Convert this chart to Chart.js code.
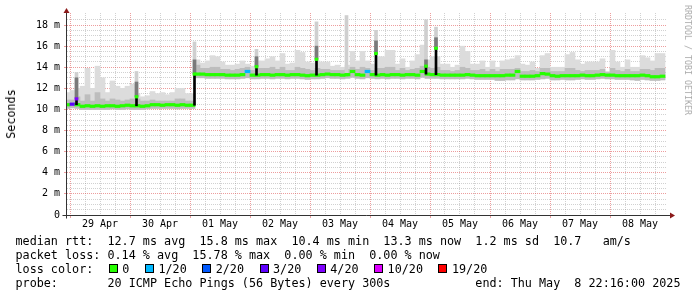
<!DOCTYPE html>
<html>
<head>
<meta charset="utf-8">
<title>SmokePing median rtt</title>
<script src="https://cdn.jsdelivr.net/npm/chart.js@4.4.1/dist/chart.umd.min.js"></script>
<style>
    body { margin: 0; background: #fff; }
    #wrap { position: relative; width: 697px; height: 297px; overflow: hidden; background: #fff; }
    #chart { position: absolute; left: 0; top: 0; }
    .mono { position: absolute; font-family: 'DejaVu Sans Mono', monospace; color: #000; white-space: nowrap; }
    #ytitle { left: 11px; top: 114px; font-size: 11.76px; transform: translate(-50%, -50%) rotate(-90deg); }
    #mark { left: 688px; top: 60px; font-size: 8.3px; color: #aaa; transform: translate(-50%, -50%) rotate(90deg); }
    #legend { left: 15.5px; top: 234px; font-size: 11.76px; line-height: 14px; }
    #legend div { height: 14px; white-space: pre; }
    .box { display: inline-block; width: 7px; height: 7px; border: 1px solid #000; margin-left: 15.5px; margin-right: 4.5px; }
</style>
</head>
<body>
<div id="wrap">
    <canvas id="chart" width="697" height="297"></canvas>
    <div id="ytitle" class="mono">Seconds</div>
    <div id="mark" class="mono">RRDTOOL / TOBI OETIKER</div>
    <div id="legend" class="mono">
        <div>median rtt:  12.7 ms avg  15.8 ms max  10.4 ms min  13.3 ms now  1.2 ms sd  10.7   am/s</div>
        <div>packet loss: 0.14 % avg  15.78 % max  0.00 % min  0.00 % now</div>
        <div id="lossLine">loss color:</div>
        <div>probe:       20 ICMP Echo Pings (56 Bytes) every 300s            end: Thu May  8 22:16:00 2025</div>
    </div>
</div>
<script>
// Time axis: hours since 29 Apr 00:00, window ends 08 May 22:16
const dayLabels = ['29 Apr', '30 Apr', '01 May', '02 May', '03 May', '04 May', '05 May', '06 May', '07 May', '08 May'];
const yTickLabels = ['0', '2 m', '4 m', '6 m', '8 m', '10 m', '12 m', '14 m', '16 m', '18 m'];

// Loss colours (SmokePing defaults)
const lossSteps = [0, 1, 2, 3, 4, 10, 19];
const lossLabels = ['0', '1/20', '2/20', '3/20', '4/20', '10/20', '19/20'];
const lossColors = ['#26ff00', '#00b8ff', '#0059ff', '#5e00ff', '#7e00ff', '#dd00ff', '#ff0000'];

// 2-hour buckets, first bucket centred on -1h (28 Apr 23:00)
const bucketStartHour = -1;
const bucketStepHours = 2;

// median rtt per bucket (ms)
const medianRtt = [
    10.45, 10.5, 10.45, 10.3, 10.35, 10.3, 10.35, 10.3, 10.35, 10.35,
    10.3, 10.35, 10.4, 10.35, 10.35, 10.3, 10.35, 10.45, 10.45, 10.4,
    10.45, 10.45, 10.4, 10.45, 10.4, 10.4, 13.35, 13.35, 13.3, 13.3,
    13.3, 13.3, 13.25, 13.25, 13.25, 13.3, 13.6, 13.25, 13.25, 13.3,
    13.3, 13.25, 13.3, 13.3, 13.25, 13.3, 13.3, 13.25, 13.2, 13.25,
    13.25, 13.3, 13.35, 13.3, 13.3, 13.25, 13.3, 13.6, 13.3, 13.25,
    13.6, 13.3, 13.25, 13.3, 13.25, 13.3, 13.3, 13.25, 13.3, 13.3,
    13.25, 13.6, 13.35, 13.3, 13.3, 13.25, 13.25, 13.25, 13.25, 13.25,
    13.3, 13.25, 13.2, 13.2, 13.2, 13.2, 13.2, 13.2, 13.25, 13.25,
    13.6, 13.15, 13.15, 13.15, 13.2, 13.4, 13.35, 13.2, 13.15, 13.2,
    13.2, 13.2, 13.2, 13.25, 13.2, 13.2, 13.25, 13.3, 13.25, 13.25,
    13.2, 13.2, 13.2, 13.2, 13.2, 13.25, 13.2, 13.1, 13.1, 13.15
];

// lost pings (of 20) per bucket
const lossCount = [
    0, 3, 0, 0, 0, 0, 0, 0, 0, 0,
    0, 0, 0, 0, 0, 0, 0, 0, 0, 0,
    0, 0, 0, 0, 0, 0, 0, 0, 0, 0,
    0, 0, 0, 0, 0, 0, 1, 0, 0, 0,
    0, 0, 0, 0, 0, 0, 0, 0, 0, 0,
    0, 0, 0, 0, 0, 0, 0, 0, 0, 0,
    1, 0, 0, 0, 0, 0, 0, 0, 0, 0,
    0, 0, 0, 0, 0, 0, 0, 0, 0, 0,
    0, 0, 0, 0, 0, 0, 0, 0, 0, 0,
    0, 0, 0, 0, 0, 0, 0, 0, 0, 0,
    0, 0, 0, 0, 0, 0, 0, 0, 0, 0,
    0, 0, 0, 0, 0, 0, 0, 0, 0, 0
];

// smoke: lowest ping, upper edge of dense smoke, highest ping (ms)
const smokeLow = [
    10.1, 10.15, 10.1, 10.0, 10.0, 10.0, 10.0, 10.0, 10.0, 10.05,
    10.0, 10.0, 10.05, 10.0, 10.0, 10.0, 10.05, 10.1, 10.1, 10.1,
    10.1, 10.1, 10.05, 10.1, 10.1, 10.1, 13.0, 13.0, 12.95, 12.95,
    12.95, 12.95, 12.9, 12.9, 12.9, 12.95, 13.0, 12.9, 12.9, 12.95,
    12.95, 12.9, 12.95, 12.95, 12.9, 12.95, 12.95, 12.9, 12.85, 12.9,
    12.9, 12.95, 13.0, 12.95, 12.95, 12.9, 12.95, 13.05, 12.95, 12.9,
    13.0, 12.95, 12.9, 12.95, 12.9, 12.95, 12.95, 12.9, 12.95, 12.95,
    12.9, 13.05, 12.95, 12.95, 12.95, 12.9, 12.9, 12.9, 12.9, 12.9,
    12.95, 12.9, 12.85, 12.85, 12.85, 12.85, 12.75, 12.75, 12.8, 12.8,
    12.9, 12.8, 12.8, 12.8, 12.85, 12.9, 12.95, 12.8, 12.8, 12.85,
    12.8, 12.8, 12.85, 12.9, 12.85, 12.85, 12.9, 12.95, 12.9, 12.9,
    12.85, 12.85, 12.85, 12.8, 12.75, 12.85, 12.8, 12.75, 12.75, 12.8
];
const smokeMid = [
    10.9, 10.9, 11.2, 10.8, 11.4, 10.8, 11.6, 11.0, 10.8, 11.0,
    10.9, 10.8, 10.9, 11.0, 11.0, 10.8, 10.8, 10.9, 10.8, 10.8,
    10.8, 10.8, 11.0, 11.0, 10.8, 10.8, 14.2, 13.9, 13.9, 14.0,
    14.0, 13.8, 13.8, 13.7, 13.8, 13.9, 14.0, 13.7, 13.9, 13.9,
    13.9, 14.0, 13.8, 14.0, 13.7, 13.7, 14.0, 13.9, 13.8, 13.7,
    13.9, 13.8, 13.8, 13.7, 13.7, 13.7, 13.8, 14.0, 13.8, 14.0,
    13.9, 13.7, 13.9, 13.9, 14.0, 14.0, 13.7, 13.9, 13.7, 13.8,
    13.9, 14.1, 14.0, 13.9, 14.0, 13.7, 13.7, 13.6, 13.7, 14.0,
    13.9, 13.7, 13.7, 13.8, 13.6, 13.8, 13.6, 13.8, 13.8, 13.8,
    13.9, 13.6, 13.6, 13.7, 13.6, 13.9, 13.9, 13.6, 13.6, 13.6,
    13.9, 13.9, 13.7, 13.6, 13.7, 13.7, 13.7, 13.8, 13.5, 13.9,
    13.7, 13.6, 13.8, 13.6, 13.6, 13.8, 13.8, 13.7, 13.9, 13.9
];
const smokeMax = [
    11.6, 11.8, 12.0, 12.2, 13.9, 12.0, 14.1, 13.0, 11.6, 12.7,
    12.2, 12.0, 12.2, 12.4, 11.5, 11.2, 11.3, 11.7, 11.5, 11.6,
    11.4, 11.6, 12.0, 12.0, 11.5, 11.5, 14.7, 14.4, 14.6, 15.1,
    15.0, 14.5, 14.2, 14.2, 14.3, 14.6, 14.3, 14.1, 14.6, 14.6,
    14.8, 15.0, 14.6, 15.3, 14.3, 14.4, 15.6, 15.4, 14.5, 14.4,
    14.6, 14.5, 14.5, 14.1, 14.2, 14.0, 14.2, 15.5, 14.6, 15.5,
    14.6, 14.3, 15.0, 15.0, 15.6, 15.6, 14.3, 14.8, 14.0, 14.6,
    15.2, 16.1, 14.7, 15.0, 15.0, 14.3, 14.3, 14.0, 14.2, 16.0,
    15.5, 14.3, 14.3, 14.6, 14.0, 14.6, 14.0, 14.6, 14.7, 14.8,
    15.1, 14.3, 14.2, 14.5, 13.9, 15.1, 15.3, 14.0, 14.0, 14.0,
    15.2, 15.4, 14.7, 14.3, 14.5, 14.5, 14.5, 14.8, 13.6, 15.6,
    14.5, 14.0, 14.7, 14.0, 14.0, 15.1, 14.9, 14.6, 15.3, 15.3
];

// short bursts: median jumps (black stems) and narrow smoke columns
const spikeHours = [2.6, 26.6, 49.8, 74.6, 98.6, 110.6, 122.4, 142.4, 146.4];
const spikeBase = [10.45, 10.35, 10.4, 13.25, 13.25, 13.3, 13.25, 13.35, 13.3];
const spikeTop = [11.0, 11.2, 13.35, 14.05, 14.75, 13.3, 15.3, 14.1, 15.8];
const spikeDark = [13.0, 12.6, 14.7, 15.0, 16.0, 13.3, 16.5, 14.7, 16.8];
const spikeSmoke = [13.5, 13.6, 16.4, 15.7, 18.3, 18.9, 17.5, 18.5, 17.8];
const spikeLoss = [4, 0, 0, 0, 0, 0, 0, 0, 0];

// Styling
const MONO = 'DejaVu Sans Mono';
const MAJOR_GRID = 'rgba(220, 60, 60, 0.5)';
const MINOR_GRID = 'rgba(140, 140, 140, 0.4)';
const LINE_HALF = 0.12; // half height of the median band, ms

function lossColor(n) {
    let c = lossColors[0];
    lossSteps.forEach((s, i) => { if (n >= s) c = lossColors[i]; });
    return c;
}

const bucketHours = medianRtt.map((_, i) => bucketStartHour + i * bucketStepHours);
const span = (xs, lo, hi) => xs.map((x, i) => ({ x: x, y: [lo[i], hi[i]] }));

const gridHours = [];
for (let h = 0; h <= 234; h += 6) gridHours.push(h);
const gridValues = [];
for (let v = 0; v <= 18.5; v += 0.5) gridValues.push(v);

// Legend colour boxes
const lossLine = document.getElementById('lossLine');
lossLabels.forEach((label, i) => {
    const box = document.createElement('span');
    box.className = 'box';
    box.style.background = lossColors[i];
    lossLine.appendChild(box);
    lossLine.appendChild(document.createTextNode(label));
});

// Axis lines with arrows like rrdtool
const rrdAxes = {
    id: 'rrdAxes',
    afterDraw(chart) {
        const { ctx, chartArea: a } = chart;
        const x0 = a.left - 0.5;
        const y0 = a.bottom + 0.5;
        ctx.save();
        ctx.strokeStyle = '#333';
        ctx.lineWidth = 1;
        ctx.beginPath();
        ctx.moveTo(x0, a.top - 2);
        ctx.lineTo(x0, y0 + 3);
        ctx.moveTo(x0 - 4, y0);
        ctx.lineTo(a.right + 4, y0);
        ctx.stroke();
        ctx.fillStyle = '#8b1a1a';
        ctx.beginPath();
        ctx.moveTo(x0, a.top - 5);
        ctx.lineTo(x0 - 3, a.top);
        ctx.lineTo(x0 + 3, a.top);
        ctx.closePath();
        ctx.fill();
        ctx.beginPath();
        ctx.moveTo(a.right + 9, y0);
        ctx.lineTo(a.right + 4, y0 - 3);
        ctx.lineTo(a.right + 4, y0 + 3);
        ctx.closePath();
        ctx.fill();
        ctx.restore();
    }
};

const barBase = { type: 'bar', stack: 'rtt', borderWidth: 0, borderSkipped: false };

new Chart(document.getElementById('chart'), {
    type: 'bar',
    data: {
        datasets: [
            { ...barBase, label: 'spike loss', order: 1, barThickness: 3,
              data: spikeHours.map((x, i) => ({ x: x, y: [spikeTop[i] - LINE_HALF, spikeTop[i] + LINE_HALF] })),
              backgroundColor: spikeLoss.map(lossColor) },
            { ...barBase, label: 'spike stem', order: 2, barThickness: 2,
              data: span(spikeHours, spikeBase, spikeTop), backgroundColor: '#000' },
            { ...barBase, label: 'median rtt', order: 3, barThickness: 5,
              data: medianRtt.map((m, i) => ({ x: bucketHours[i], y: [m - LINE_HALF, m + LINE_HALF] })),
              backgroundColor: lossCount.map(lossColor) },
            { ...barBase, label: 'spike shade', order: 4, barThickness: 3,
              data: span(spikeHours, spikeTop, spikeDark), backgroundColor: '#7a7a7a' },
            { ...barBase, label: 'spike smoke', order: 5, barThickness: 3,
              data: span(spikeHours, spikeTop, spikeSmoke), backgroundColor: '#cfcfcf' },
            { ...barBase, label: 'dense smoke', order: 6, barThickness: 5,
              data: span(bucketHours, smokeLow, smokeMid), backgroundColor: '#bdbdbd' },
            { ...barBase, label: 'smoke', order: 7, barThickness: 5,
              data: span(bucketHours, smokeLow, smokeMax), backgroundColor: '#dcdcdc' }
        ]
    },
    options: {
        responsive: false,
        animation: false,
        devicePixelRatio: 1,
        layout: { padding: { left: 0, right: 31, top: 13, bottom: 62 } },
        plugins: { legend: { display: false }, tooltip: { enabled: false } },
        scales: {
            x: {
                type: 'linear',
                min: -1.2,
                max: 238.4,
                offset: false,
                afterBuildTicks: s => { s.ticks = gridHours.map(v => ({ value: v })); },
                afterFit: s => { s.height = 20; },
                grid: {
                    offset: false,
                    lineWidth: 1,
                    tickLength: 3,
                    color: c => (c.tick && c.tick.value % 24 === 0 ? MAJOR_GRID : MINOR_GRID),
                    tickColor: c => (c.tick && c.tick.value % 24 === 0 ? MAJOR_GRID : 'rgba(0,0,0,0)')
                },
                border: { display: false, dash: [1, 1] },
                ticks: {
                    autoSkip: false,
                    maxRotation: 0,
                    padding: 0,
                    color: '#000',
                    font: { family: MONO, size: 10 },
                    callback: v => (v % 24 === 12 ? dayLabels[(v - 12) / 24] : '')
                }
            },
            y: {
                type: 'linear',
                min: 0,
                max: 19.14,
                stacked: false,
                afterBuildTicks: s => { s.ticks = gridValues.map(v => ({ value: v })); },
                afterFit: s => { s.width = 67; },
                grid: {
                    lineWidth: 1,
                    tickLength: 3,
                    color: c => (c.tick && c.tick.value % 2 === 0 ? MAJOR_GRID : MINOR_GRID),
                    tickColor: c => (c.tick && c.tick.value % 2 === 0 ? MAJOR_GRID : 'rgba(0,0,0,0)')
                },
                border: { display: false, dash: [1, 1] },
                ticks: {
                    autoSkip: false,
                    padding: 4,
                    color: '#000',
                    font: { family: MONO, size: 10 },
                    callback: v => (v % 2 === 0 ? yTickLabels[v / 2] : '')
                }
            }
        }
    },
    plugins: [rrdAxes]
});
</script>
</body>
</html>
